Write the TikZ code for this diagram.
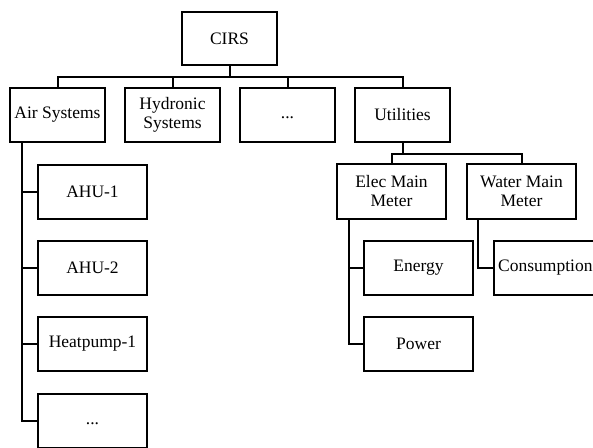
\documentclass[tikz,border=0pt]{standalone}
\usepackage{fontspec}
\setmainfont{Liberation Serif}
\begin{document}
\begin{tikzpicture}[x=1pt,y=-1pt,
  txt/.style={font=\fontsize{17.5}{19}\selectfont},
  box/.style={txt, draw=black, line width=2pt, fill=white, align=center, inner sep=0pt},
  wide/.style={box, minimum width=95pt, minimum height=54pt},
  narrow/.style={box, minimum width=109pt, minimum height=54pt},
  conn/.style={draw=black, line width=2pt}]
\useasboundingbox (0,0) rectangle (593,447);
\clip (0,0) rectangle (593,447);
% level 0 and 1
\node[wide, minimum height=53pt] (cirs) at (229.5,38.5) {CIRS};
\node[wide] (air) at (57.5,115) {Air Systems};
\node[wide] (hyd) at (172.5,115) {Hydronic\\Systems};
\node[wide] (more) at (287.5,115) {\strut...};
\node[wide] (util) at (402.5,115) {Utilities};
% air children
\node[narrow] (ahu1) at (92.5,192) {AHU-1};
\node[narrow] (ahu2) at (92.5,268) {AHU-2};
\node[narrow] (hp1) at (92.5,344) {Heatpump-1};
\node[narrow] (amore) at (92.5,421) {\strut...};
% utilities children
\node[narrow, minimum height=55pt] (elec) at (391.5,191.5) {Elec Main\\Meter};
\node[narrow, minimum height=55pt] (water) at (521.5,191.5) {Water Main\\Meter};
\node[narrow] (energy) at (418.5,268) {Energy};
\node[narrow] (power) at (418.5,344) {Power};
\node[narrow] (cons) at (548.5,268) {};
\node[txt, anchor=west, inner sep=0pt] (constext) at (498,268) {Consumption};
% bus coordinates
\coordinate (bus) at (0,77);
\coordinate (ubus) at (0,154);
\coordinate (atr) at (22,0);
\coordinate (etr) at (349,0);
\coordinate (wtr) at (478,0);
% top level connectors
\draw[conn] (cirs.south) -- (cirs.south |- bus);
\draw[conn] (air.north) |- (util.north |- bus) -- (util.north);
\draw[conn] (hyd.north) -- (hyd.north |- bus);
\draw[conn] (more.north) -- (more.north |- bus);
% air systems trunk
\draw[conn] (air.south -| atr) |- (amore.west);
\draw[conn] (ahu1.west) -- (ahu1.west -| atr);
\draw[conn] (ahu2.west) -- (ahu2.west -| atr);
\draw[conn] (hp1.west) -- (hp1.west -| atr);
% utilities
\draw[conn] (util.south) -- (util.south |- ubus);
\draw[conn] (elec.north) |- (water.north |- ubus) -- (water.north);
\draw[conn] (elec.south -| etr) |- (power.west);
\draw[conn] (energy.west) -- (energy.west -| etr);
\draw[conn] (water.south -| wtr) |- (cons.west);
\end{tikzpicture}
\end{document}
